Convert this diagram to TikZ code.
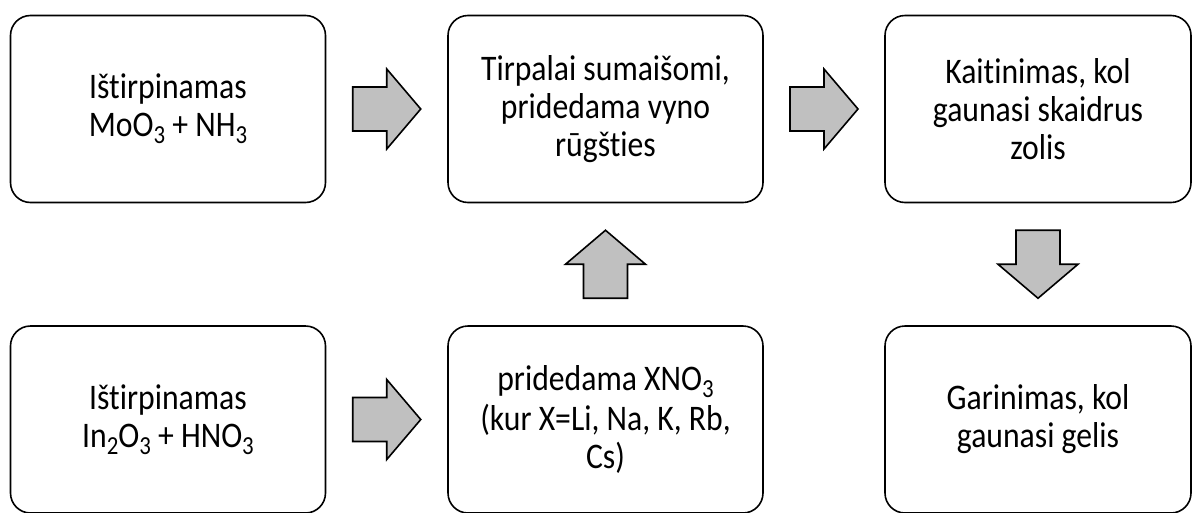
\documentclass[tikz,border=0pt]{standalone}
\usepackage{fontspec}
\setmainfont{Carlito}[Ligatures=NoCommon, FakeStretch=0.88]
\usetikzlibrary{calc}
\definecolor{arrowgray}{RGB}{192,192,192}
\newcommand\chemsub[1]{\raisebox{-0.2em}{\fontsize{26}{26}\selectfont #1}}
\tikzset{
  stepbox/.style={draw, line width=1.6pt, rounded corners=20pt, minimum width=315pt,
    minimum height=187pt, align=center, font=\fontsize{36}{38}\selectfont},
  blockarr/.pic={\draw[line width=1.6pt, fill=arrowgray, line join=miter]
    (-34,-22) -- (0,-22) -- (0,-40) -- (34,0) -- (0,40) -- (0,22) -- (-34,22) -- cycle;}
}
\begin{document}
\begin{tikzpicture}[x=1pt, y=1pt]
  \useasboundingbox (0,0) rectangle (1192,-512);
  \clip (0,0) rectangle (1192,-512);

  % top row
  \node[stepbox] (b1) at (168,-109) {Ištirpinamas\\MoO\chemsub{3} + NH\chemsub{3}};
  \node[stepbox] (b2) at (605.5,-109) {Tirpalai sumaišomi,\\pridedama vyno\\rūgšties};
  \node[stepbox, minimum width=306pt] (b3) at (1038,-109) {Kaitinimas, kol\\gaunasi skaidrus\\zolis};

  % bottom row
  \node[stepbox] (b4) at (168,-419.5) {Ištirpinamas\\In\chemsub{2}O\chemsub{3} + HNO\chemsub{3}};
  \node[stepbox] (b5) at (605.5,-419.5) {pridedama XNO\chemsub{3}\\[2pt](kur X=Li, Na, K, Rb,\\Cs)};
  \node[stepbox, minimum width=306pt] (b6) at (1038,-419.5) {Garinimas, kol\\gaunasi gelis};

  % block arrows
  \pic at ($(b1.east)!0.5!(b2.west)$) {blockarr};
  \pic at ($(b2.east)!0.5!(b3.west)$) {blockarr};
  \pic at ($(b4.east)!0.5!(b5.west)$) {blockarr};
  \pic[rotate=90] at ($(b5.north)!0.5!(b2.south)$) {blockarr};
  \pic[rotate=-90] at ($(b3.south)!0.5!(b6.north)$) {blockarr};
\end{tikzpicture}
\end{document}
